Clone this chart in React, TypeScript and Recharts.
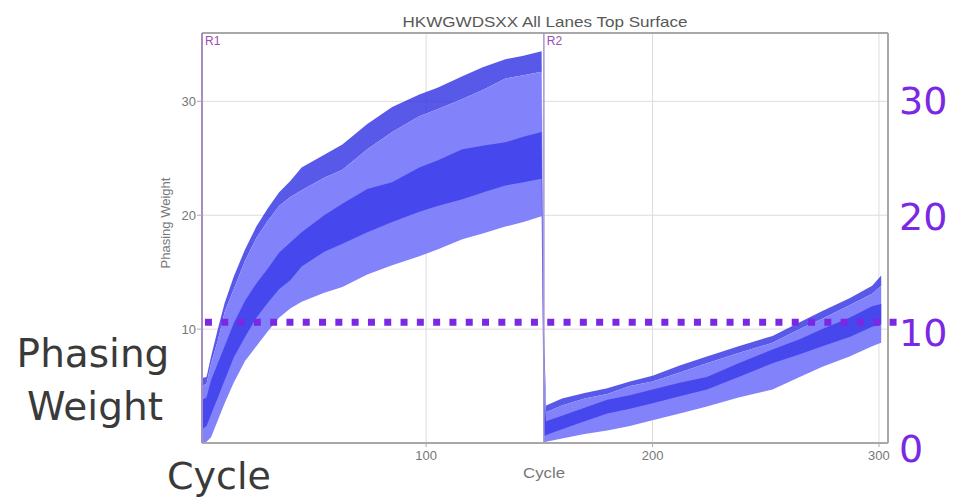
import React from 'react';
import { ComposedChart, Area, XAxis, YAxis, CartesianGrid, ReferenceLine } from 'recharts';

const TITLE = 'HKWGWDSXX All Lanes Top Surface';
const X_LABEL = 'Cycle';
const Y_LABEL = 'Phasing Weight';
const BIG_Y_LABEL = ['Phasing', 'Weight'];
const BIG_X_LABEL = 'Cycle';
const X_TICKS = [100, 200, 300];
const Y_TICKS = [10, 20, 30];
const RIGHT_TICKS = [0, 10, 20, 30];
const THRESHOLD = 10.6;
const READ_BOUNDARIES = [
  { cycle: 1, name: 'R1' },
  { cycle: 152, name: 'R2' },
];

// Read 1 (cycles 1-151)
const R1_CYCLE = [1, 3, 5, 8, 11, 15, 20, 25, 30, 35, 40, 45, 55, 63, 74, 85, 97, 105, 116, 125, 135, 143, 151];
const R1_LOW = [0, 0.1, 0.5, 2.0, 3.5, 5.3, 7.2, 8.5, 9.8, 11.0, 11.8, 12.4, 13.2, 13.7, 14.8, 15.6, 16.4, 17.0, 17.9, 18.4, 19.0, 19.4, 19.9];
const R1_Q1 = [1.2, 1.5, 2.5, 4.0, 5.5, 7.5, 9.3, 11.0, 12.3, 13.5, 14.3, 15.5, 16.8, 17.5, 18.5, 19.4, 20.3, 20.8, 21.4, 22.0, 22.6, 22.9, 23.2];
const R1_Q3 = [3.8, 4.0, 5.5, 7.0, 8.5, 10.5, 12.5, 14.0, 15.3, 16.7, 17.6, 18.5, 20.0, 21.0, 22.3, 22.9, 24.2, 24.8, 25.8, 26.1, 26.4, 26.9, 27.3];
const R1_HIGH = [5.0, 5.2, 7.0, 9.0, 11.5, 13.5, 16.0, 18.0, 19.5, 20.8, 21.6, 22.2, 23.3, 24.0, 25.8, 27.3, 28.7, 29.3, 30.2, 31.0, 32.0, 32.3, 32.6];
const R1_TOP = [5.7, 5.8, 7.6, 10.0, 12.3, 14.6, 17.0, 19.0, 20.6, 22.0, 23.0, 24.2, 25.3, 26.2, 28.0, 29.5, 30.6, 31.2, 32.2, 33.0, 33.7, 34.0, 34.4];

// Read 2 (cycles 152-301)
const R2_CYCLE = [152, 153, 160, 170, 180, 190, 200, 212, 224, 238, 253, 265, 275, 287, 297, 301];
const R2_LOW = [0, 0.1, 0.4, 0.8, 1.1, 1.5, 2.0, 2.6, 3.2, 4.0, 4.7, 5.8, 6.7, 7.6, 8.5, 8.8];
const R2_Q1 = [0.6, 0.7, 1.2, 1.9, 2.6, 3.0, 3.5, 4.1, 4.7, 5.8, 7.0, 7.8, 8.5, 9.3, 10.2, 10.4];
const R2_Q3 = [4.0, 1.9, 2.4, 3.1, 3.8, 4.2, 4.7, 5.3, 5.8, 7.0, 8.2, 9.1, 10.0, 11.0, 12.0, 12.2];
const R2_HIGH = [7.2, 2.7, 3.3, 3.9, 4.3, 5.0, 5.4, 6.2, 7.0, 7.9, 8.8, 10.0, 10.9, 12.1, 13.1, 13.8];
const R2_TOP = [10.0, 3.3, 3.9, 4.4, 4.8, 5.4, 5.9, 6.8, 7.6, 8.5, 9.4, 10.6, 11.6, 12.7, 13.8, 14.7];

const CYCLES = [...R1_CYCLE, ...R2_CYCLE];
const LOW = [...R1_LOW, ...R2_LOW];
const Q1 = [...R1_Q1, ...R2_Q1];
const Q3 = [...R1_Q3, ...R2_Q3];
const HIGH = [...R1_HIGH, ...R2_HIGH];
const TOP = [...R1_TOP, ...R2_TOP];

const rows = CYCLES.map((cycle, i) => ({
  cycle,
  whisker: [LOW[i], HIGH[i]],
  box: [Q1[i], Q3[i]],
  outliers: [HIGH[i], TOP[i]],
}));

const PURPLE = '#7b28e4';
const FONT = '"Liberation Sans", Arial, sans-serif';
const BIG_FONT = '"DejaVu Sans", Verdana, sans-serif';

export default function App() {
  return (
    <div style={{ position: 'absolute', left: 0, top: 0, width: 955, height: 500, background: '#fff' }}>
      <ComposedChart
        width={955}
        height={500}
        data={rows}
        margin={{ top: 33, right: 0, bottom: 0, left: 142 }}
        style={{ fontFamily: FONT }}
      >
        <CartesianGrid stroke="#dcdcdc" strokeWidth={1} />
        <XAxis
          dataKey="cycle"
          type="number"
          domain={[1, 304]}
          ticks={X_TICKS}
          interval={0}
          height={57}
          tick={{ fill: '#777', fontSize: 13 }}
          tickSize={4}
          tickMargin={4}
          tickLine={{ stroke: '#aaa' }}
          axisLine={{ stroke: '#a8a8a8', strokeWidth: 2 }}
        />
        <YAxis
          type="number"
          domain={[0, 36]}
          ticks={Y_TICKS}
          interval={0}
          width={60}
          tick={{ fill: '#777', fontSize: 13 }}
          tickSize={5}
          tickMargin={1}
          tickLine={{ stroke: '#aaa' }}
          axisLine={{ stroke: '#a58cc2', strokeWidth: 2 }}
        />
        <YAxis
          yAxisId="right"
          orientation="right"
          type="number"
          domain={[0.5, 35.8]}
          allowDataOverflow
          ticks={RIGHT_TICKS}
          interval={0}
          width={67}
          tick={{ fill: PURPLE, fontSize: 38, fontFamily: BIG_FONT }}
          tickSize={0}
          tickMargin={11}
          tickLine={false}
          axisLine={{ stroke: '#a8a8a8', strokeWidth: 2 }}
        />
        <Area
          type="linear"
          dataKey="outliers"
          stroke="none"
          fill="#3030e4"
          fillOpacity={0.8}
          dot={false}
          activeDot={false}
          isAnimationActive={false}
        />
        <Area
          type="linear"
          dataKey="whisker"
          stroke="none"
          fill="#8282fa"
          fillOpacity={1}
          dot={false}
          activeDot={false}
          isAnimationActive={false}
        />
        <Area
          type="linear"
          dataKey="box"
          stroke="none"
          fill="#4747ee"
          fillOpacity={1}
          dot={false}
          activeDot={false}
          isAnimationActive={false}
        />
        <ReferenceLine y={36} stroke="#a8a8a8" strokeWidth={2} />
        {READ_BOUNDARIES.map((b) => (
          <ReferenceLine
            key={b.name}
            x={b.cycle}
            stroke="#ab94cc"
            strokeWidth={b.cycle === 1 ? 2 : 1.5}
            label={{ value: b.name, position: 'insideTopLeft', offset: 3, fill: '#9a4bb4', fontSize: 12 }}
          />
        ))}
        <ReferenceLine
          segment={[{ x: 2.3, y: THRESHOLD }, { x: 308.4, y: THRESHOLD }]}
          ifOverflow="visible"
          stroke={PURPLE}
          strokeWidth={7}
          strokeDasharray="7 9.3"
        />
      </ComposedChart>
      <svg
        width={955}
        height={500}
        style={{ position: 'absolute', left: 0, top: 0, pointerEvents: 'none' }}
      >
        <text x={545} y={27} textAnchor="middle" fontSize={15} fill="#585858" fontFamily={FONT} textLength={285} lengthAdjust="spacingAndGlyphs">
          {TITLE}
        </text>
        <text x={544} y={478} textAnchor="middle" fontSize={14} fill="#777" fontFamily={FONT} textLength={42} lengthAdjust="spacingAndGlyphs">
          {X_LABEL}
        </text>
        <text
          x={0}
          y={0}
          transform="translate(170, 223) rotate(-90)"
          textAnchor="middle"
          fontSize={13}
          fill="#777"
          fontFamily={FONT}
        >
          {Y_LABEL}
        </text>
        <text x={93} y={367} textAnchor="middle" fontSize={39} fill="#3a3a3a" fontFamily={BIG_FONT}>
          {BIG_Y_LABEL[0]}
        </text>
        <text x={95} y={420} textAnchor="middle" fontSize={39} fill="#3a3a3a" fontFamily={BIG_FONT}>
          {BIG_Y_LABEL[1]}
        </text>
        <text x={219} y={489} textAnchor="middle" fontSize={38} fill="#3a3a3a" fontFamily={BIG_FONT}>
          {BIG_X_LABEL}
        </text>
      </svg>
    </div>
  );
}
